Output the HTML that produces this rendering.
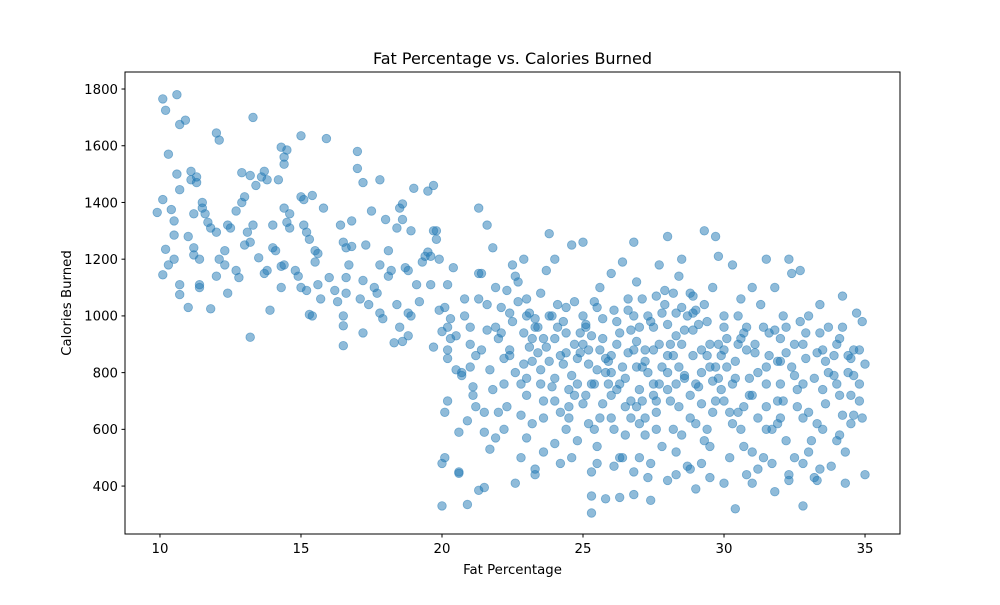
<!DOCTYPE html>
<html><head><meta charset="utf-8"><style>
html,body{margin:0;padding:0;background:#fff;}
svg text{font-family:"DejaVu Sans","Liberation Sans",sans-serif;fill:#000;}
</style></head><body>
<svg id="chart" width="1000" height="600" xmlns="http://www.w3.org/2000/svg">
<rect width="1000" height="600" fill="#fff"/>
<text x="512.5" y="64" font-size="16" text-anchor="middle">Fat Percentage vs. Calories Burned</text>
<g id="points"></g>
<rect x="125" y="72" width="775" height="462" fill="none" stroke="#000" stroke-width="1"/>
<g id="xticks"></g>
<g id="yticks"></g>
<text x="512.5" y="574" font-size="13.3" text-anchor="middle">Fat Percentage</text>
<text x="0" y="0" font-size="13.3" text-anchor="middle" transform="translate(71,303) rotate(-90)">Calories Burned</text>
</svg>
<script>
const xTicks=[10,15,20,25,30,35];
const yTicks=[400,600,800,1000,1200,1400,1600,1800];
const fatPct=[10.1,10.2,10.6,10.7,10.9,10.3,10.1,10.4,10.6,10.7,10.5,10.5,9.9,10.2,10.1,10.3,10.5,10.7,10.7,11.0,11.0,11.1,11.1,11.3,11.3,11.2,11.2,11.2,11.4,11.4,11.4,11.5,11.5,11.6,11.7,11.8,11.8,12.0,12.0,12.1,12.0,12.1,12.3,12.4,12.5,12.3,12.4,12.7,12.8,12.7,12.9,12.9,13.0,13.2,13.1,13.0,13.2,13.3,13.2,13.3,13.4,13.5,13.6,13.7,13.8,13.8,13.7,14.0,14.0,13.9,14.1,14.2,14.3,14.4,14.4,14.5,14.4,14.5,14.6,14.3,14.4,14.3,14.6,14.8,14.9,15.0,15.0,15.1,15.2,15.1,15.3,15.4,15.0,15.2,15.3,15.4,15.5,15.6,15.5,15.6,15.7,15.8,15.9,16.0,16.3,16.2,16.4,16.5,16.6,16.5,16.5,16.5,16.7,16.6,16.6,16.8,16.8,17.0,17.0,17.2,17.1,17.2,17.3,17.2,17.4,17.5,17.6,17.7,17.8,17.8,17.8,17.9,18.0,18.1,18.2,18.1,18.3,18.4,18.5,18.5,18.6,18.4,18.6,18.7,18.8,18.9,19.0,18.8,18.9,18.6,18.8,19.1,19.2,19.3,19.4,19.5,19.5,19.6,19.7,19.7,19.6,19.8,19.8,19.9,20.0,19.9,20.1,20.2,20.4,20.3,19.7,
20.0,20.0,20.1,20.1,20.2,20.2,20.2,20.3,20.2,20.5,20.6,20.6,20.6,20.7,20.7,20.8,20.9,20.9,21.0,21.0,21.1,21.1,21.2,21.2,21.3,21.3,21.3,21.4,21.4,21.5,21.5,21.5,21.6,21.6,21.7,21.7,21.8,21.9,21.9,21.9,22.0,22.0,22.1,22.2,22.2,22.3,22.4,22.4,22.5,22.6,22.6,22.7,22.8,22.8,22.8,22.9,22.9,23.0,23.0,23.0,23.1,23.2,23.3,23.3,23.3,23.4,23.5,23.5,23.6,23.6,23.7,23.8,23.8,23.9,24.0,24.0,24.0,24.1,24.2,24.3,24.4,24.4,24.5,24.5,24.6,24.7,24.8,24.8,24.9,25.0,25.0,25.1,25.1,25.2,25.3,25.3,25.3,25.4,25.5,25.5,25.5,25.6,25.7,25.7,25.8,25.9,26.0,26.0,26.0,26.1,26.2,26.3,26.3,26.4,26.5,26.5,26.6,26.7,26.8,26.8,26.8,26.9,27.0,27.0,27.1,27.2,27.3,27.3,27.4,27.5,27.5,27.6,27.6,27.7,27.8,27.9,28.0,28.0,28.0,28.1,28.2,28.3,28.3,28.4,28.5,28.5,28.6,28.7,28.8,28.8,28.9,29.0,29.0,29.1,29.2,29.3,29.3,29.4,29.5,29.5,29.6,29.7,29.8,29.8,29.9,30.0,30.0,30.1,30.3,30.3,30.4,30.5,30.6,30.7,30.7,30.8,30.9,31.0,31.0,31.1,31.2,31.3,31.4,31.5,31.5,31.6,31.7,31.8,31.8,31.9,32.0,32.1,32.2,32.3,32.3,32.4,32.5,32.6,32.7,32.8,32.8,32.9,33.0,33.1,33.2,33.3,33.4,33.5,33.6,33.7,33.8,33.9,34.0,34.1,34.2,34.3,34.4,34.5,34.6,34.7,34.8,34.9,35.0,35.0,34.9,34.8,
22.1,22.5,23.2,23.7,24.2,24.6,24.9,25.2,25.6,25.9,26.2,26.4,26.7,27.0,27.2,27.5,27.8,28.1,28.3,28.6,28.9,29.2,29.5,29.8,30.1,30.4,30.8,31.2,31.6,32.0,32.4,32.8,33.2,33.6,34.0,34.4,26.9,27.6,28.4,29.0,29.7,30.2,31.0,31.9,32.6,33.3,25.4,26.6,27.9,28.7,30.5,32.2,24.0,23.0,21.8,21.0,20.5,
22.3,22.7,23.1,23.4,23.9,24.3,24.7,25.0,25.3,25.7,26.1,26.3,26.8,27.1,27.4,27.8,28.2,28.5,28.9,29.3,29.6,30.0,30.6,31.4,32.0,32.7,33.4,34.2,23.5,24.0,24.5,25.0,25.6,26.0,26.5,27.0,27.3,27.7,28.0,28.4,28.8,29.2,29.6,30.3,30.9,31.5,32.1,32.8,33.5,34.1,34.6,34.2,33.0,31.7,30.6,29.4,28.2,27.2,26.1,25.2,24.4,23.2,22.2,21.6,21.3,20.8,22.6,23.8,26.9,29.9,31.9,33.9,34.6,
22.4,22.9,23.3,23.6,24.1,24.4,24.8,25.1,25.4,25.8,26.0,26.3,26.6,26.9,27.2,27.5,27.7,28.0,28.3,28.6,28.9,29.1,29.4,29.7,30.0,30.4,30.7,31.1,31.5,31.8,32.2,32.5,32.9,33.3,33.7,34.1,34.5,34.8,
23.0,23.6,24.2,24.7,25.3,25.8,26.2,26.7,27.1,27.6,28.0,28.5,29.0,29.5,30.0,30.5,31.0,31.5,32.0,32.5,33.0,33.5,34.0,34.5,25.5,26.4,27.4,28.3,29.2,30.2,31.2,32.3,33.4,24.6,26.8,28.8,30.8,32.8,34.3];
const calories=[1765,1725,1780,1675,1690,1570,1410,1375,1500,1445,1335,1285,1365,1235,1145,1180,1200,1110,1075,1030,1280,1510,1480,1470,1490,1360,1240,1215,1200,1110,1100,1400,1380,1360,1330,1310,1025,1295,1645,1620,1140,1200,1230,1320,1310,1180,1080,1160,1135,1370,1400,1505,1420,1495,1295,1250,1260,1320,925,1700,1460,1205,1490,1510,1480,1160,1150,1320,1240,1020,1230,1480,1595,1535,1560,1585,1380,1330,1360,1175,1180,1100,1310,1160,1140,1635,1420,1410,1295,1320,1270,1425,1100,1090,1005,1000,1230,1220,1190,1110,1060,1380,1625,1135,1050,1090,1320,1260,1240,1000,965,895,1180,1135,1080,1335,1245,1580,1520,1470,1060,940,1250,1125,1040,1370,1100,1080,1480,1180,1010,990,1340,1230,1160,1140,905,1040,1380,960,1340,1310,1395,1170,1160,1300,1450,1010,1000,910,930,1110,1050,1190,1210,1225,1440,1210,1460,1300,1110,1300,1270,1200,945,1020,1030,1110,1170,990,890,
330,480,500,660,700,850,880,920,960,930,590,450,445,800,790,1000,630,335,960,900,750,720,860,680,1380,1150,385,1150,880,395,590,660,1320,1040,810,530,1240,1100,960,570,920,660,1030,850,760,680,1010,860,1180,1140,410,1120,760,650,500,1200,940,1060,1000,570,890,840,460,440,960,870,810,1080,640,520,1160,1290,1000,750,1200,920,550,1040,480,830,940,1030,680,640,1250,900,760,560,870,1260,1000,960,720,880,305,365,450,600,1030,810,480,1100,920,690,355,840,1150,860,640,470,980,500,360,1190,780,580,1060,700,1260,880,370,1120,960,500,820,640,1000,430,350,880,760,1070,600,1180,540,1090,970,420,1280,700,860,1010,520,1140,1200,900,780,470,1080,640,950,1020,390,750,880,1300,560,980,820,430,660,1280,1210,900,740,1000,410,820,1180,620,320,900,1060,680,540,960,780,1100,410,870,640,1040,500,1200,760,940,480,380,1100,700,840,1000,560,1200,440,1150,900,740,1160,330,640,850,1000,560,430,420,1040,880,690,960,470,790,900,580,1070,410,860,720,650,1010,880,640,440,830,980,760,
940,980,920,890,860,790,940,830,880,760,900,820,950,740,880,960,820,900,760,950,860,800,900,780,920,840,880,800,860,760,820,900,780,840,760,800,680,700,680,620,700,660,720,620,680,620,1050,1020,1040,1000,1000,960,780,720,740,820,810,
1090,1050,1010,960,1000,980,1050,900,930,990,1020,940,1000,1060,980,1010,1080,1030,1070,1040,1100,960,920,960,920,980,940,960,760,700,740,690,640,720,680,620,800,760,740,820,720,690,770,760,720,680,700,760,740,720,790,650,660,600,600,600,600,580,600,620,600,620,600,950,1060,1060,800,840,820,860,840,860,880,
880,830,990,920,960,870,850,970,760,850,800,760,870,910,840,720,900,860,930,790,1010,970,860,820,880,780,940,900,820,950,870,790,940,870,800,920,850,700,
780,700,660,720,760,800,740,640,700,660,800,580,760,540,700,660,520,600,640,500,520,600,560,620,540,500,480,440,480,500,460,420,460,500,450,460,440,480,520];

const NS="http://www.w3.org/2000/svg";
const X0=125,X1=900,Y0=534,Y1=72;
const xMin=8.76,xMax=36.24,yMin=231,yMax=1860;
function xScale(v){return X0+(v-xMin)/(xMax-xMin)*(X1-X0);}
function yScale(v){return Y0-(v-yMin)/(yMax-yMin)*(Y0-Y1);}

const pts=document.getElementById('points');
const n=Math.min(fatPct.length,calories.length);
for(let i=0;i<n;i++){
  const c=document.createElementNS(NS,'circle');
  c.setAttribute('cx',xScale(fatPct[i]).toFixed(1));
  c.setAttribute('cy',yScale(calories[i]).toFixed(1));
  c.setAttribute('r','4.3');
  c.setAttribute('fill','#1f77b4');
  c.setAttribute('fill-opacity','0.5');
  c.setAttribute('stroke','#1f77b4');
  c.setAttribute('stroke-opacity','0.5');
  c.setAttribute('stroke-width','0.8');
  
  
  pts.appendChild(c);
}
const xg=document.getElementById('xticks');
xTicks.forEach(t=>{
  const x=xScale(t);
  const l=document.createElementNS(NS,'line');
  l.setAttribute('x1',x);l.setAttribute('x2',x);l.setAttribute('y1',Y0);l.setAttribute('y2',Y0+3.5);
  l.setAttribute('stroke','#000');
  
  
  xg.appendChild(l);
  const tx=document.createElementNS(NS,'text');
  tx.setAttribute('x',x);tx.setAttribute('y',Y0+19);tx.setAttribute('font-size','13.3');tx.setAttribute('text-anchor','middle');
  tx.textContent=t;
  
  
  xg.appendChild(tx);
});
const yg=document.getElementById('yticks');
yTicks.forEach(t=>{
  const y=yScale(t);
  const l=document.createElementNS(NS,'line');
  l.setAttribute('x1',X0-3.5);l.setAttribute('x2',X0);l.setAttribute('y1',y);l.setAttribute('y2',y);
  l.setAttribute('stroke','#000');
  
  
  yg.appendChild(l);
  const tx=document.createElementNS(NS,'text');
  tx.setAttribute('x',X0-7);tx.setAttribute('y',y+4.8);tx.setAttribute('font-size','13.3');tx.setAttribute('text-anchor','end');
  tx.textContent=t;
  
  
  yg.appendChild(tx);
});
</script>
</body></html>
